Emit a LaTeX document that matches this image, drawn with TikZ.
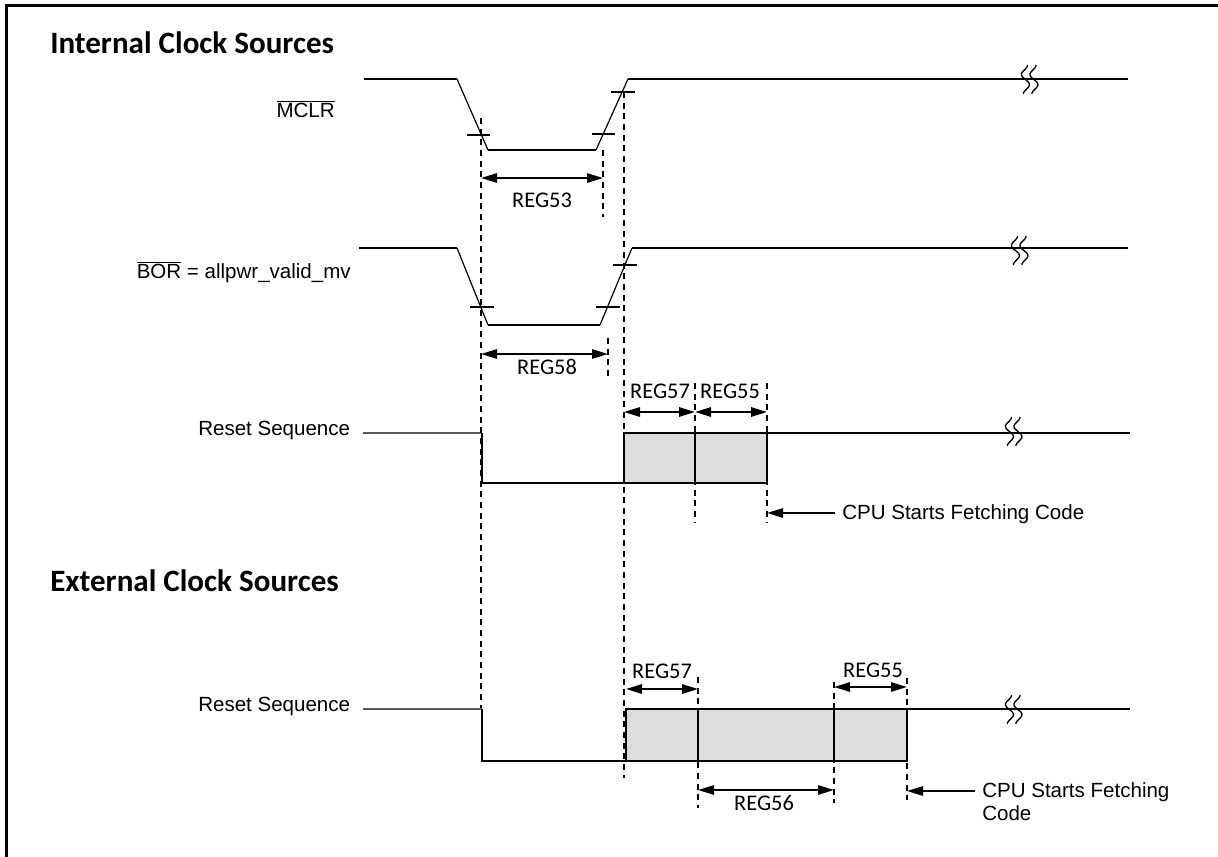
\documentclass[tikz,border=0pt]{standalone}
\usepackage{fontspec}
\setmainfont{Liberation Sans}
\newfontfamily\calib{Carlito}
\usetikzlibrary{arrows.meta}
\definecolor{boxgray}{HTML}{DDDDDD}
\definecolor{leadgray}{HTML}{5A5A5A}
\begin{document}
\begin{tikzpicture}[x=0.75pt,y=-0.75pt,
  frame/.style={line width=2.25pt},
  wave/.style={line width=1.5pt, line join=miter},
  slope/.style={line width=0.9pt},
  tickmark/.style={line width=1.4pt},
  guide/.style={line width=1.5pt, dash pattern=on 4.5pt off 3.5pt},
  span/.style={line width=1.5pt, {Triangle[length=12pt,width=7pt]}-{Triangle[length=12pt,width=7pt]}},
  pointer/.style={line width=1.5pt, -{Triangle[length=12pt,width=7pt]}},
  leadline/.style={line width=1pt, draw=leadgray},
  seg/.style={draw, line width=1.5pt, fill=boxgray},
  brk/.style={line width=1pt},
  lbl/.style={font=\fontsize{15.4}{17.25}\selectfont, inner sep=0pt},
  reg/.style={font=\calib\fontsize{16.8}{20}\selectfont, inner sep=0pt},
  head/.style={font=\calib\bfseries\fontsize{23.3}{28}\selectfont, inner sep=0pt, anchor=west}]
\useasboundingbox (0,0) rectangle (1218,857);
% frame
\draw[frame] (6,857) -- (6,5) -- (1218,5);
% headings
\node[head] (h1) at (50,43) {Internal Clock Sources};
\node[head] (h2) at (50,581) {External Clock Sources};
% signal labels
\node[lbl, anchor=base east] (lmclr) at (335,117) {$\overline{\hbox{\fontsize{15.4}{17}\selectfont MCLR}}$};
\node[lbl, anchor=base east] (lbor) at (351,278) {$\overline{\hbox{\fontsize{15.4}{17}\selectfont BOR}}$ = allpwr\_valid\_mv};
\node[lbl, anchor=base west] (lrs1) at (198,435) {Reset Sequence};
\node[lbl, anchor=base west] (lrs2) at (198,711) {Reset Sequence};

% ---------- MCLR ----------
\draw[wave] (364,79) -- (457,79);
\draw[slope] (457,79) -- (488,150);
\draw[wave] (488,150) -- (596,150);
\draw[slope] (596,150) -- (628,79);
\draw[wave] (628,79) -- (1128,79);
\draw[tickmark] (467,135) -- (490,135);
\draw[tickmark] (592,134) -- (615,134);
\draw[tickmark] (611,92) -- (635,92);

% ---------- BOR ----------
\draw[wave] (359,248) -- (457,248);
\draw[slope] (457,248) -- (488,325);
\draw[wave] (488,325) -- (600,325);
\draw[slope] (600,325) -- (632,248);
\draw[wave] (632,248) -- (1128,248);
\draw[tickmark] (470,307) -- (494,307);
\draw[tickmark] (596,307) -- (620,307);
\draw[tickmark] (613,265) -- (637,265);

% ---------- guides ----------
\coordinate (g1a) at (481,118); \coordinate (g1b) at (481,708);
\coordinate (g2a) at (603,150); \coordinate (g2b) at (603,217);
\coordinate (g3a) at (624,92);  \coordinate (g3b) at (624,778);
\coordinate (g4a) at (608,338); \coordinate (g4b) at (608,376);
\coordinate (g5a) at (695,383); \coordinate (g5b) at (695,522);
\coordinate (g6a) at (767,383); \coordinate (g6b) at (767,522);
\coordinate (g7a) at (698,677); \coordinate (g7b) at (698,808);
\coordinate (g8a) at (834,682); \coordinate (g8b) at (834,803);
\coordinate (g9a) at (907,678); \coordinate (g9b) at (907,800);

% ---------- internal reset sequence ----------
\draw[leadline] (363,433) -- (482,433);
\draw[wave] (482,433) -- (482,483) -- (624,483);
\draw[seg] (624,433) rectangle (695,483);
\draw[seg] (695,433) rectangle (767,483);
\draw[wave] (767,433) -- (1130,433);

% ---------- external reset sequence ----------
\draw[leadline] (363,709) -- (482,709);
\draw[wave] (482,709) -- (482,761) -- (626,761);
\draw[seg] (626,709) rectangle (698,761);
\draw[seg] (698,709) rectangle (834,761);
\draw[seg] (834,709) rectangle (907,761);
\draw[wave] (907,709) -- (1130,709);

% dashed guides
\foreach \g in {1,...,9} {\draw[guide] (g\g a) -- (g\g b);}

% ---------- breaks ----------
\foreach \cx/\cy in {1028/79, 1018/250, 1012/431, 1012/709} {
  \draw[brk] plot[domain=0:29, smooth, samples=25] ({\cx-4+3.5*cos(\x*18.6)+0.1*\x}, {\cy-14+\x});
  \draw[brk] plot[domain=0:29, smooth, samples=25] ({\cx+4.5+3.5*cos(\x*18.6)+0.1*\x}, {\cy-14+\x});
}

% ---------- spans ----------
\coordinate (a53l) at (481,178); \coordinate (a53r) at (603,178);
\draw[span] (a53l) -- (a53r);
\node[reg] (t53) at (542,200) {REG53};
\coordinate (a58l) at (481,354); \coordinate (a58r) at (608,354);
\draw[span] (a58l) -- (a58r);
\node[reg] (t58) at (547,367) {REG58};

\coordinate (a57l) at (624,412); \coordinate (a57r) at (695,412); \coordinate (a55r) at (767,412);
\draw[span] (a57l) -- (a57r);
\draw[span] (a57r) -- (a55r);
\node[reg] (t57) at (660,391) {REG57};
\node[reg] (t55) at (730,391) {REG55};

\coordinate (c1s) at (835,513); \coordinate (c1e) at (767,513);
\draw[pointer] (c1s) -- (c1e);
\node[lbl, anchor=base west] (cpu1) at (842,519) {CPU Starts Fetching Code};

\coordinate (b57l) at (626,689); \coordinate (b57r) at (698,689);
\draw[span] (b57l) -- (b57r);
\node[reg] (u57) at (662,671) {REG57};
\coordinate (b55l) at (834,687); \coordinate (b55r) at (907,687);
\draw[span] (b55l) -- (b55r);
\node[reg] (u55) at (873,670) {REG55};
\coordinate (b56l) at (698,790); \coordinate (b56r) at (834,790);
\draw[span] (b56l) -- (b56r);
\node[reg] (u56) at (764,803) {REG56};

\coordinate (c2s) at (975,791); \coordinate (c2e) at (907,791);
\draw[pointer] (c2s) -- (c2e);
\node[lbl, anchor=north west, align=left] (cpu2) at (982,782) {CPU Starts Fetching\\Code};
\end{tikzpicture}
\end{document}
